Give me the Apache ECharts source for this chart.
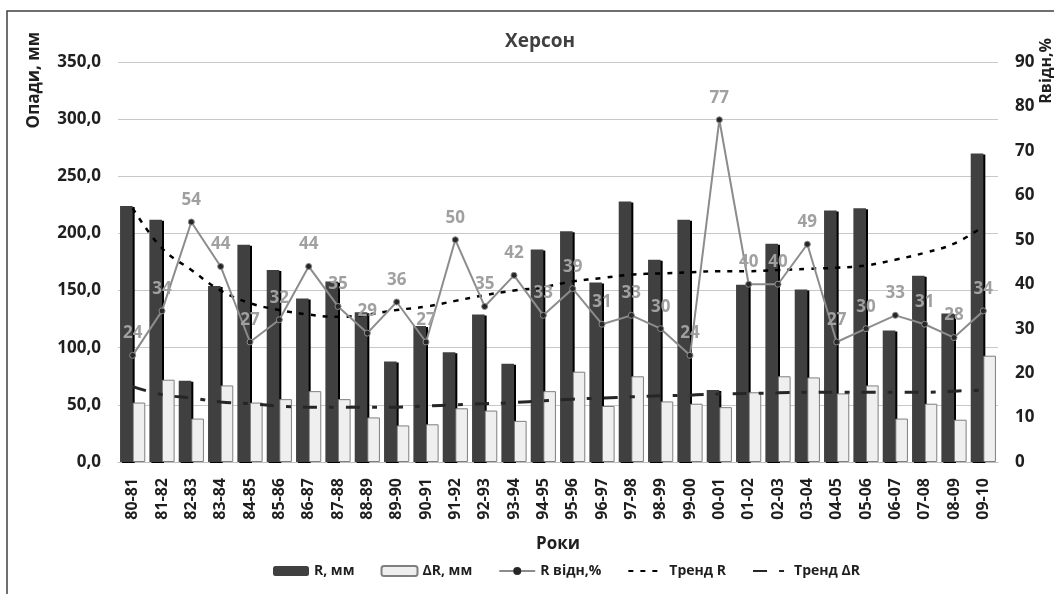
<!DOCTYPE html>
<html>
<head>
<meta charset="utf-8">
<script src="https://cdn.jsdelivr.net/npm/echarts@6/dist/echarts.min.js"></script>
<style>
  html, body { margin: 0; padding: 0; background: #fff; }
  #chart { width: 1054px; height: 594px; }
</style>
</head>
<body>
<div id="chart"></div>
<script>
// Опади по роках, Херсон
const years = ['80-81','81-82','82-83','83-84','84-85','85-86','86-87','87-88','88-89','89-90',
  '90-91','91-92','92-93','93-94','94-95','95-96','96-97','97-98','98-99','99-00',
  '00-01','01-02','02-03','03-04','04-05','05-06','06-07','07-08','08-09','09-10'];

// R, мм
const rMm = [224, 212, 71, 154, 190, 168, 143, 158, 131, 88,
  119, 96, 129, 86, 186, 202, 157, 228, 177, 212,
  63, 155, 191, 151, 220, 222, 115, 163, 130, 270];

// ΔR, мм
const dRMm = [52, 72, 38, 67, 52, 55, 62, 55, 39, 32,
  33, 47, 45, 36, 62, 79, 49, 75, 53, 51,
  48, 61, 75, 74, 60, 67, 38, 51, 37, 93];

// R відн, %
const rRel = [24, 34, 54, 44, 27, 32, 44, 35, 29, 36,
  27, 50, 35, 42, 33, 39, 31, 33, 30, 24,
  77, 40, 40, 49, 27, 30, 33, 31, 28, 34];

// Тренд R (поліноміальний)
const trendR = [222, 187, 168, 150, 139, 133, 129, 127, 129, 133,
  136, 141, 146, 150, 153, 158, 161, 164, 165, 166,
  167, 167, 168, 169, 170, 172, 177, 183, 191, 206];

// Тренд ΔR (поліноміальний)
const trendDR = [66, 59, 56, 52.5, 51, 49, 48, 48, 48, 48,
  49, 50, 51, 52, 53.5, 55, 56, 57, 58, 58.5,
  59.5, 60, 60.5, 61, 61, 61, 61, 61, 62, 63];

const leftTicks = { min: 0, max: 350, step: 50 };
const rightTicks = { min: 0, max: 90, step: 10 };

const FONT = '"Open Sans", sans-serif';
const TXT = '#1f1f1f';

const chart = echarts.init(document.getElementById('chart'), null, { renderer: 'canvas' });

chart.setOption({
  backgroundColor: '#ffffff',
  animation: false,
  textStyle: { fontFamily: FONT },
  title: {
    text: 'Херсон',
    left: 535, top: 27,
    textAlign: 'center',
    textStyle: { fontFamily: FONT, fontSize: 19, fontWeight: 'bold', color: '#404040' }
  },
  graphic: [
    {
      type: 'rect', silent: true, z: -1,
      shape: { x: 7, y: 11, width: 1200, height: 800 },
      style: { fill: 'none', stroke: '#404040', lineWidth: 1.5 }
    },
    {
      type: 'text', left: 26, top: 32, rotation: Math.PI / 2,
      style: { text: 'Опади, мм', font: 'bold 17px ' + FONT, fill: TXT }
    },
    {
      type: 'text', left: 1038, top: 38, rotation: Math.PI / 2,
      style: { text: 'Rвідн,%', font: 'bold 16px ' + FONT, fill: TXT }
    }
  ],
  grid: { left: 118, right: 56, top: 62, bottom: 132, containLabel: false },
  legend: {
    left: 268, top: 559,
    itemWidth: 36, itemHeight: 10, itemGap: 26,
    textStyle: { fontFamily: FONT, fontSize: 14, fontWeight: 'bold', color: TXT },
    data: [
      'R, мм',
      'ΔR, мм',
      { name: 'R відн,%', itemStyle: { color: '#262626', borderWidth: 0 } },
      { name: 'Тренд R', itemStyle: { opacity: 0 } },
      { name: 'Тренд ΔR', itemStyle: { opacity: 0 } }
    ]
  },
  xAxis: {
    type: 'category',
    data: years,
    name: 'Роки',
    nameLocation: 'middle',
    nameGap: 74,
    nameTextStyle: { fontFamily: FONT, fontSize: 17, fontWeight: 'bold', color: TXT },
    axisLine: { lineStyle: { color: '#bfbfbf', width: 1 } },
    axisTick: { show: false },
    axisLabel: {
      rotate: 90, margin: 16, interval: 0,
      fontFamily: FONT, fontSize: 16, fontWeight: 'bold', color: TXT
    }
  },
  yAxis: [
    {
      type: 'value',
      min: leftTicks.min, max: leftTicks.max, interval: leftTicks.step,
      axisLine: { show: false }, axisTick: { show: false },
      splitLine: { lineStyle: { color: '#c8c8c8', width: 1 } },
      axisLabel: {
        margin: 17,
        fontFamily: FONT, fontSize: 17, fontWeight: 'bold', color: TXT,
        formatter: v => v.toFixed(1).replace('.', ',')
      }
    },
    {
      type: 'value',
      min: rightTicks.min, max: rightTicks.max, interval: rightTicks.step,
      axisLine: { show: false }, axisTick: { show: false },
      splitLine: { show: false },
      axisLabel: {
        margin: 17,
        fontFamily: FONT, fontSize: 17, fontWeight: 'bold', color: TXT
      }
    }
  ],
  series: [
    {
      name: 'R, мм',
      type: 'bar',
      data: rMm,
      barGap: '0%',
      barCategoryGap: '14%',
      itemStyle: {
        color: '#404040',
        shadowColor: '#000000', shadowOffsetX: 2, shadowOffsetY: 1, shadowBlur: 0
      },
      z: 2
    },
    {
      name: 'ΔR, мм',
      type: 'bar',
      data: dRMm,
      itemStyle: { color: '#efefef', borderColor: '#7f7f7f', borderWidth: 1 },
      z: 3
    },
    {
      name: 'Тренд R',
      type: 'line',
      data: trendR,
      symbol: 'none',
      smooth: 0.4,
      lineStyle: { color: '#000000', width: 2.5, type: [5, 7] },
      itemStyle: { color: '#000000' },
      z: 4
    },
    {
      name: 'Тренд ΔR',
      type: 'line',
      data: trendDR,
      symbol: 'none',
      smooth: 0.4,
      lineStyle: { color: '#262626', width: 3, type: [14, 12, 5, 12] },
      itemStyle: { color: '#262626' },
      z: 4
    },
    {
      name: 'R відн,%',
      type: 'line',
      yAxisIndex: 1,
      data: rRel,
      symbol: 'circle',
      symbolSize: 6,
      lineStyle: { color: '#8c8c8c', width: 2 },
      itemStyle: { color: '#262626', borderColor: '#8c8c8c', borderWidth: 1 },
      label: {
        show: true, position: 'top', distance: 10,
        fontFamily: FONT, fontSize: 17, fontWeight: 'bold', color: '#a0a0a0'
      },
      z: 5
    }
  ]
});
</script>
</body>
</html>
